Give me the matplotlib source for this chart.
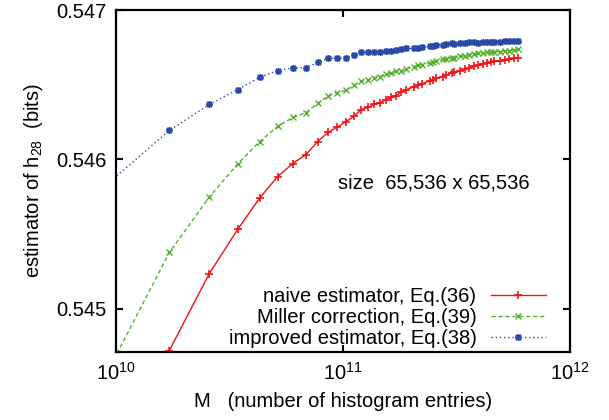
import matplotlib
matplotlib.use("Agg")
import matplotlib.pyplot as plt
from matplotlib.ticker import FixedLocator, FormatStrFormatter, LogFormatterMathtext
import numpy as np

plt.rcParams['font.family'] = ['Liberation Sans', 'DejaVu Sans']
plt.rcParams['mathtext.default'] = 'regular'

# number of histogram entries, in units of 2^33
n_blocks = [1, 2, 3, 4, 5, 6, 7, 8, 9, 10, 11, 12, 13, 14, 15, 16, 17, 18, 19, 20,
            21, 22, 24, 25, 26, 28, 29, 30, 32, 33, 35, 36, 38, 40, 42, 44, 46, 48,
            50, 52, 54, 57, 60, 63, 66, 69]
block_size = 2 ** 33

naive = [0.543726, 0.544722, 0.545237, 0.545532, 0.545742, 0.545886, 0.545973,
         0.546033, 0.546120, 0.546181, 0.546217, 0.546254, 0.546288, 0.546334,
         0.546348, 0.546368, 0.546381, 0.546401, 0.546415, 0.546428, 0.546452,
         0.546465, 0.546488, 0.546498, 0.546508, 0.546525, 0.546535, 0.546542,
         0.546555, 0.546562, 0.546579, 0.546582, 0.546592, 0.546602, 0.546615,
         0.546625, 0.546632, 0.546639, 0.546646, 0.546649, 0.546656, 0.546659,
         0.546666, 0.546669, 0.546676, 0.546682]

miller = [0.544495, 0.545378, 0.545749, 0.545970, 0.546120, 0.546221, 0.546281,
          0.546314, 0.546375, 0.546425, 0.546448, 0.546462, 0.546495, 0.546522,
          0.546535, 0.546542, 0.546555, 0.546569, 0.546579, 0.546589, 0.546595,
          0.546605, 0.546622, 0.546632, 0.546635, 0.546646, 0.546652, 0.546659,
          0.546669, 0.546672, 0.546679, 0.546682, 0.546689, 0.546692, 0.546702,
          0.546706, 0.546709, 0.546712, 0.546716, 0.546716, 0.546719, 0.546722,
          0.546726, 0.546729, 0.546732, 0.546736]

improved = [0.545799, 0.546194, 0.546368, 0.546468, 0.546549, 0.546595, 0.546612,
            0.546615, 0.546649, 0.546676, 0.546679, 0.546679, 0.546702, 0.546716,
            0.546716, 0.546716, 0.546722, 0.546726, 0.546729, 0.546732, 0.546739,
            0.546743, 0.546743, 0.546749, 0.546753, 0.546756, 0.546759, 0.546763,
            0.546769, 0.546773, 0.546776, 0.546774, 0.546778, 0.546779, 0.546783,
            0.546783, 0.546781, 0.546784, 0.546786, 0.546786, 0.546789, 0.546789,
            0.546790, 0.546793, 0.546793, 0.546794]

series_labels = ['naive estimator, Eq.(36)',
                 'Miller correction, Eq.(39)',
                 'improved estimator, Eq.(38)']
y_ticks = [0.545, 0.546, 0.547]
x_ticks = [1e10, 1e11, 1e12]

M = np.array(n_blocks, dtype=float) * block_size

fig = plt.figure(figsize=(6.09, 4.20), dpi=100)
ax = fig.add_axes([116 / 609, 1 - 352 / 420, 454 / 609, 342 / 420])

ax.plot(M, naive, color='#f01414', lw=1.0, ls='-', marker='+', ms=6, mew=1.2,
        label=series_labels[0])
ax.plot(M, miller, color='#55b030', lw=1.0, ls=(0, (3, 2)), marker='x', ms=5, mew=1.0,
        label=series_labels[1])
ax.plot(M, improved, color='#2a4aa8', lw=1.0, ls=(0, (1, 2)), marker=(8, 2, 0),
        ms=5, mew=1.1, label=series_labels[2])

ax.set_xscale('log')
ax.set_xlim(1e10, 1e12)
ax.set_ylim(0.544712, 0.547)
ax.xaxis.set_major_locator(FixedLocator(x_ticks))
ax.xaxis.set_major_formatter(LogFormatterMathtext())
ax.xaxis.set_minor_locator(FixedLocator([]))
ax.yaxis.set_major_locator(FixedLocator(y_ticks))
ax.yaxis.set_major_formatter(FormatStrFormatter('%.3f'))

for s in ax.spines.values():
    s.set_linewidth(1.6)
ax.tick_params(which='major', direction='in', length=5, width=1.5,
               top=True, right=True, labelsize=14.5, pad=7)

ax.set_xlabel('M   (number of histogram entries)', fontsize=14.5, labelpad=6)
ax.set_ylabel('estimator of h$_{28}$  (bits)', fontsize=14.5, labelpad=8)

ax.text(0.489, 0.494, 'size  65,536 x 65,536', transform=ax.transAxes,
        fontsize=14.5, ha='left', va='center')

ax.legend(loc='lower right', bbox_to_anchor=(0.947, 0.012), frameon=False,
          markerfirst=False, fontsize=14.5, handlelength=2.75, handletextpad=0.7,
          labelspacing=0.1, borderpad=0, borderaxespad=0)

fig.savefig('out.png', dpi=100)
